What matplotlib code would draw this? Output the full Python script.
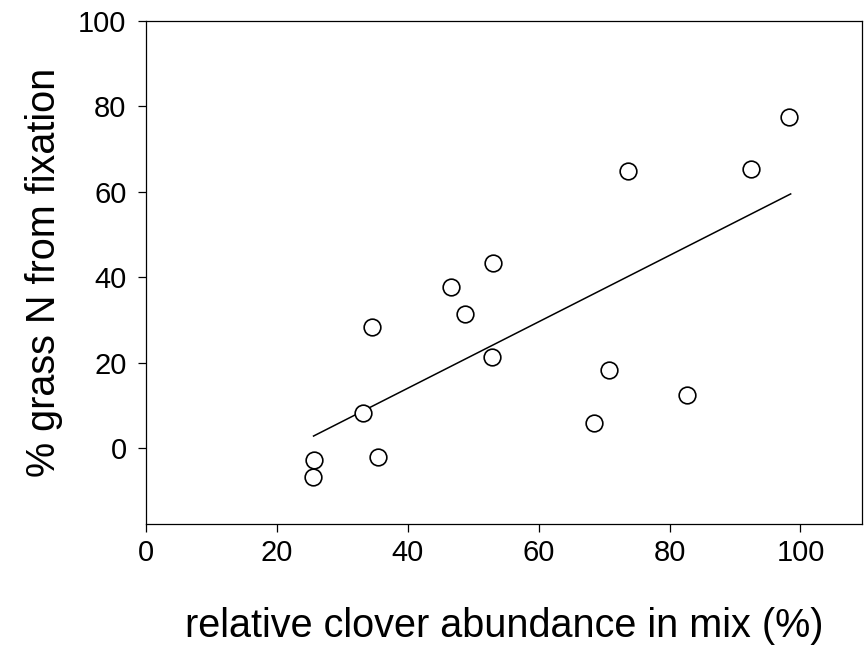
import matplotlib
matplotlib.use("Agg")
import matplotlib.pyplot as plt

plt.rcParams['font.family'] = ['Liberation Sans', 'DejaVu Sans']

clover_abundance = [25.6, 25.5, 35.4, 33.1, 34.5, 48.7, 52.8, 46.6, 53.0,
                    73.6, 92.4, 98.3, 70.7, 82.7, 68.4]
grass_n_fixation = [-2.8, -6.8, -2.1, 8.2, 28.3, 31.4, 21.3, 37.7, 43.3,
                    64.9, 65.3, 77.5, 18.3, 12.4, 5.9]
fit_x = [25.6, 98.5]
fit_y = [2.8, 59.5]
x_ticks = [0, 20, 40, 60, 80, 100]
y_ticks = [0, 20, 40, 60, 80, 100]

fig = plt.figure(figsize=(8.67, 6.55), dpi=100)
ax = fig.add_axes([146/867, 1-524/655, (862-146)/867, (524-21)/655])

ax.plot(fit_x, fit_y, color='black', lw=1.1)
ax.plot(clover_abundance, grass_n_fixation, 'o', ms=12, mfc='white',
        mec='black', mew=1.2, ls='none')

ax.set_xlim(0, 109.4)
ax.set_ylim(-17.8, 100)
ax.set_xticks(x_ticks)
ax.set_yticks(y_ticks)
ax.tick_params(direction='out', length=6, width=0.9, labelsize=21)
ax.tick_params(axis='x', pad=5)
ax.tick_params(axis='y', pad=8)
for s in ax.spines.values():
    s.set_linewidth(0.9)

ax.set_xlabel('relative clover abundance in mix (%)', fontsize=28.5, va='center')
ax.set_ylabel('% grass N from fixation', fontsize=28.5, va='center')
ax.xaxis.set_label_coords(0.5, (524 - 626) / 503)
ax.yaxis.set_label_coords((44 - 146) / 716, 0.5)

fig.savefig('out.png', dpi=100)
